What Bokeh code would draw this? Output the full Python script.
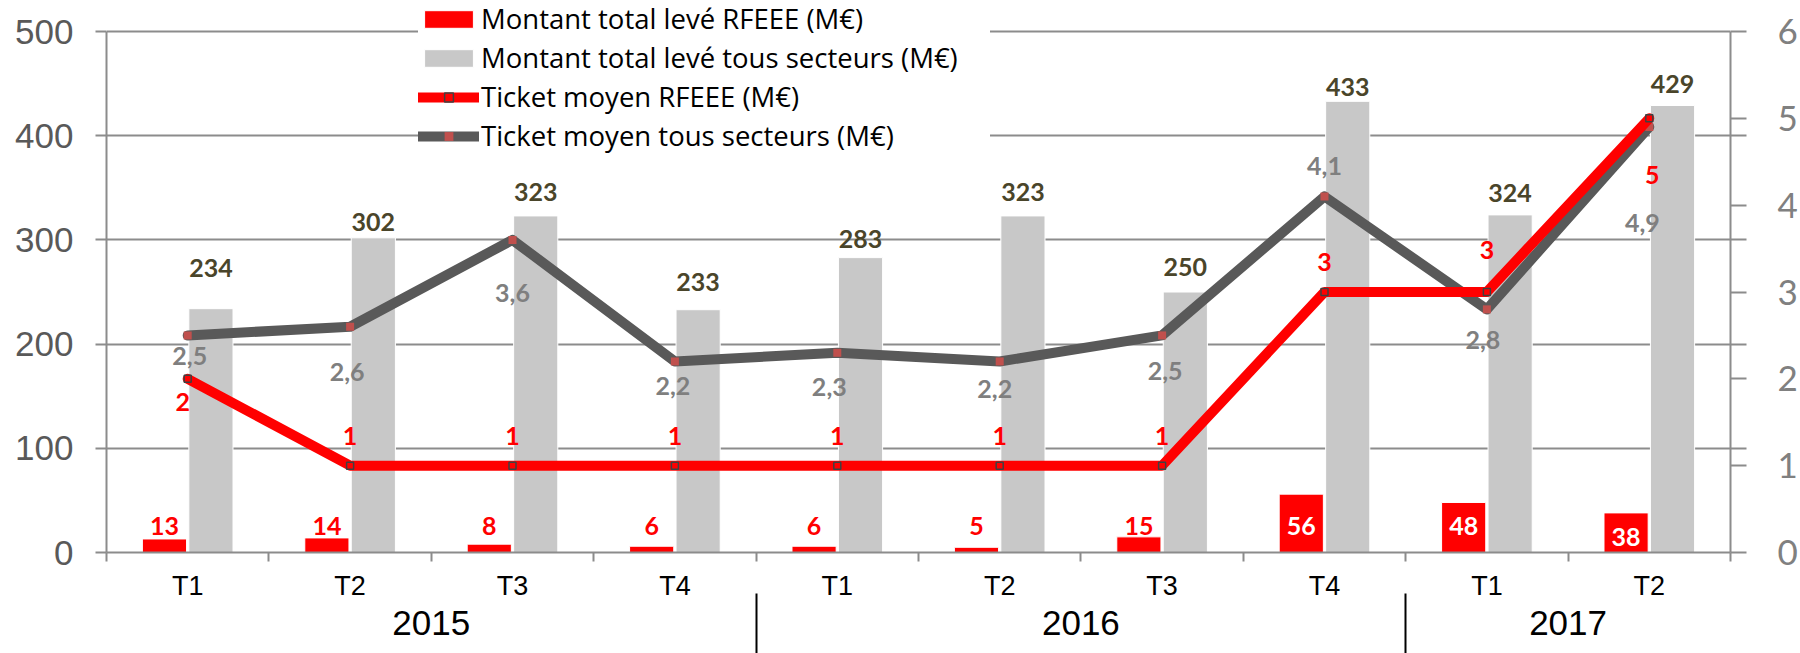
import numpy as np
from bokeh.plotting import figure
from bokeh.models import (ColumnDataSource, Range1d, LinearAxis, FixedTicker,
                          Legend, LegendItem)
from bokeh.transform import dodge
from bokeh.core.properties import value
from bokeh.embed import file_html
from bokeh.resources import INLINE

# ---------------- data ----------------
years = ["2015", "2016", "2017"]
quarters_per_year = [4, 4, 2]
quarters = ["T1", "T2", "T3", "T4", "T1", "T2", "T3", "T4", "T1", "T2"]
rfeee_total = [13, 14, 8, 6, 6, 5, 15, 56, 48, 38]
all_total = [234, 302, 323, 233, 283, 323, 250, 433, 324, 429]
rfeee_ticket = [2, 1, 1, 1, 1, 1, 1, 3, 3, 5]
all_ticket = [2.5, 2.6, 3.6, 2.2, 2.3, 2.2, 2.5, 4.1, 2.8, 4.9]
left_ticks = [0, 100, 200, 300, 400, 500]
right_ticks = [0, 1, 2, 3, 4, 5, 6]
series_names = ["Montant total levé RFEEE (M€)",
                "Montant total levé tous secteurs (M€)",
                "Ticket moyen RFEEE (M€)",
                "Ticket moyen tous secteurs (M€)"]

# ---------------- label placement (screen px offsets) ----------------
red_bar_lbl_dy = [-27, -27, -27, -27, -27, -27, -27, -27, -27, -16]
gray_bar_lbl_dy = [-41, -16, -24, -28, -19, -24, -25, -14, -22, -21]
gray_line_lbl_dx = [2, -3, 0, -2, -8, -5, 3, 0, -4, -7]
gray_line_lbl_dy = [21, 45, 53, 25, 34, 28, 36, -30, 31, 96]
red_line_lbl_dx = [-5, 0, 0, 0, 0, 0, 0, 0, 0, 3]
red_line_lbl_dy = [23, -30, -30, -30, -30, -30, -30, -30, -42, 57]

RED = "#FF0000"
GRAY_BAR = "#C8C8C8"
GRAY_LINE = "#595959"
AXIS_GRAY = "#8C8C8C"

# layout: frame spans the full top; axes are drawn only up to their top tick
TOP_PAD = 31      # px above the top tick
AXIS_H = 521      # px between bottom and top ticks
head = 1 + TOP_PAD / AXIS_H

n = len(quarters)
centers = [i + 0.5 for i in range(n)]
bounds = list(range(n + 1))
cum = np.cumsum([0] + quarters_per_year)
year_centers = [float(cum[i] + quarters_per_year[i] / 2) for i in range(len(years))]
year_bounds = [int(b) for b in cum[1:-1]]

src = ColumnDataSource(dict(
    x=centers,
    rfeee_total=rfeee_total,
    all_total=all_total,
    rfeee_ticket=rfeee_ticket,
    all_ticket=all_ticket,
    zero=[0] * n,
    rfeee_total_lbl=[str(v) for v in rfeee_total],
    all_total_lbl=[str(v) for v in all_total],
    rfeee_ticket_lbl=[str(v) for v in rfeee_ticket],
    all_ticket_lbl=[f"{v:.1f}".replace(".", ",") for v in all_ticket],
    red_lbl_color=["white" if v > 30 else RED for v in rfeee_total],
    red_bar_dy=red_bar_lbl_dy,
    gray_bar_dy=gray_bar_lbl_dy,
    gl_dx=gray_line_lbl_dx,
    gl_dy=gray_line_lbl_dy,
    rl_dx=red_line_lbl_dx,
    rl_dy=red_line_lbl_dy,
))

p = figure(width=1800, height=653,
           x_range=Range1d(0, n),
           y_range=Range1d(left_ticks[0], left_ticks[-1] * head),
           output_backend="svg", toolbar_location=None,
           min_border_left=106, min_border_right=70,
           min_border_top=0, min_border_bottom=101)
p.outline_line_color = None
p.background_fill_color = "white"
p.border_fill_color = "white"
p.extra_y_ranges = {"right": Range1d(right_ticks[0], right_ticks[-1] * head)}

# grid
p.xgrid.visible = False
p.ygrid.ticker = FixedTicker(ticks=left_ticks)
p.ygrid.grid_line_color = AXIS_GRAY
p.ygrid.grid_line_width = 2

# left axis
yax = p.yaxis[0]
yax.ticker = FixedTicker(ticks=left_ticks)
yax.bounds = (left_ticks[0], left_ticks[-1])
yax.axis_line_color = AXIS_GRAY
yax.axis_line_width = 2
yax.major_tick_out = 11
yax.major_tick_in = 0
yax.major_tick_line_color = AXIS_GRAY
yax.major_tick_line_width = 2
yax.minor_tick_line_color = None
yax.major_label_text_font = "Liberation Sans"
yax.major_label_text_font_size = "35px"
yax.major_label_text_color = "#595959"
yax.major_label_standoff = 22

# right axis
rax = LinearAxis(y_range_name="right",
                 ticker=FixedTicker(ticks=right_ticks,
                                    minor_ticks=[v * right_ticks[-1] / left_ticks[-1] for v in left_ticks[1:-1]]))
rax.bounds = (right_ticks[0], right_ticks[-1])
rax.axis_line_color = AXIS_GRAY
rax.axis_line_width = 2
rax.major_tick_out = 16
rax.major_tick_in = 0
rax.major_tick_line_color = AXIS_GRAY
rax.major_tick_line_width = 2
rax.minor_tick_out = 16
rax.minor_tick_in = 0
rax.minor_tick_line_color = AXIS_GRAY
rax.minor_tick_line_width = 2
rax.major_label_text_font = "Lato"
rax.major_label_text_font_size = "35px"
rax.major_label_text_color = "#808080"
rax.major_label_standoff = 31
p.add_layout(rax, "right")

# bottom axis: quarters
xax = p.xaxis[0]
xax.ticker = FixedTicker(ticks=centers, minor_ticks=bounds)
xax.major_label_overrides = {c: q for c, q in zip(centers, quarters)}
xax.axis_line_color = AXIS_GRAY
xax.axis_line_width = 2
xax.major_tick_out = 0
xax.major_tick_in = 0
xax.major_tick_line_color = None
xax.minor_tick_out = 9
xax.minor_tick_in = 0
xax.minor_tick_line_color = AXIS_GRAY
xax.minor_tick_line_width = 2
xax.major_label_text_font = "Liberation Sans"
xax.major_label_text_font_size = "27px"
xax.major_label_text_color = "black"
xax.major_label_standoff = 9

# bottom axis: years with separators
yrax = LinearAxis(ticker=FixedTicker(ticks=year_centers, minor_ticks=year_bounds))
yrax.major_label_overrides = {c: y for c, y in zip(year_centers, years)}
yrax.axis_line_color = None
yrax.major_tick_out = 0
yrax.major_tick_in = 0
yrax.major_tick_line_color = None
yrax.minor_tick_in = 10
yrax.minor_tick_out = 53
yrax.minor_tick_line_color = "black"
yrax.minor_tick_line_width = 2
yrax.major_label_text_font = "Liberation Sans"
yrax.major_label_text_font_size = "35px"
yrax.major_label_text_color = "black"
yrax.major_label_standoff = -46
p.add_layout(yrax, "below")

# bars
bw = 0.272
off = 0.143
r_red_bar = p.vbar(x=dodge("x", -off, range=p.x_range), top="rfeee_total", width=bw,
                   source=src, fill_color=RED, line_color="white", line_width=1)
r_gray_bar = p.vbar(x=dodge("x", off, range=p.x_range), top="all_total", width=bw,
                    source=src, fill_color=GRAY_BAR, line_color="white", line_width=1)

# lines
r_gray_line = p.line("x", "all_ticket", source=src, y_range_name="right",
                     line_color=GRAY_LINE, line_width=10, line_join="round", line_cap="round")
r_gray_pts = p.scatter("x", "all_ticket", source=src, y_range_name="right", marker="square",
                       size=8, fill_color="#C0504D", line_color=None)
r_red_line = p.line("x", "rfeee_ticket", source=src, y_range_name="right",
                    line_color=RED, line_width=10, line_join="round", line_cap="round")
r_red_pts = p.scatter("x", "rfeee_ticket", source=src, y_range_name="right", marker="square",
                      size=7, fill_color=RED, line_color="#404040", line_width=1.5)

# labels
p.text(x=dodge("x", -off, range=p.x_range), y="zero", text="rfeee_total_lbl", source=src,
       y_offset="red_bar_dy", text_align="center", text_baseline="middle",
       text_font=value("Lato"), text_font_style="bold", text_font_size="25px",
       text_color="red_lbl_color")
p.text(x=dodge("x", off, range=p.x_range), y="all_total", text="all_total_lbl", source=src,
       y_offset="gray_bar_dy", text_align="center", text_baseline="middle",
       text_font=value("Lato"), text_font_style="bold", text_font_size="25px",
       text_color="#4A452A")
p.text(x="x", y="all_ticket", text="all_ticket_lbl", source=src, y_range_name="right",
       x_offset="gl_dx", y_offset="gl_dy", text_align="center", text_baseline="middle",
       text_font=value("Lato"), text_font_style="bold", text_font_size="25px",
       text_color="#7F7F7F")
p.text(x="x", y="rfeee_ticket", text="rfeee_ticket_lbl", source=src, y_range_name="right",
       x_offset="rl_dx", y_offset="rl_dy", text_align="center", text_baseline="middle",
       text_font=value("Lato"), text_font_style="bold", text_font_size="25px",
       text_color=RED)

# legend
legend = Legend(items=[
    LegendItem(label=series_names[0], renderers=[r_red_bar]),
    LegendItem(label=series_names[1], renderers=[r_gray_bar]),
    LegendItem(label=series_names[2], renderers=[r_red_line, r_red_pts]),
    LegendItem(label=series_names[3], renderers=[r_gray_line, r_gray_pts]),
], location=(312, 398), padding=20, spacing=2, margin=0,
    glyph_width=61, glyph_height=22, label_standoff=2,
    label_height=32, label_width=509,
    label_text_font="Open Sans", label_text_font_size="27.5px", label_text_color="black",
    border_line_color=None, background_fill_color="white", background_fill_alpha=1.0)
p.add_layout(legend)

open("out.html", "w").write(file_html(p, INLINE))
